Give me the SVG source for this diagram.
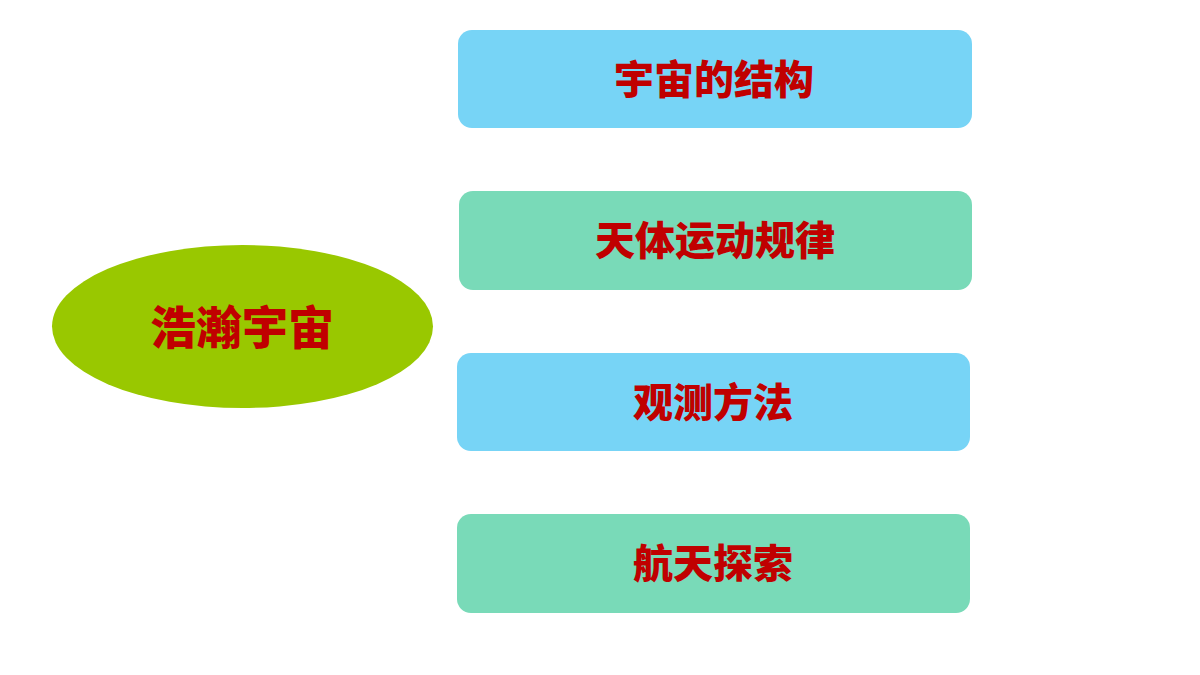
<svg xmlns="http://www.w3.org/2000/svg" width="1200" height="675" viewBox="0 0 1200 675">
<style>
.bg{fill:#ffffff}
.blue{fill:#77D4F6}
.green{fill:#79DAB8}
.root{fill:#99C800}
.t{font-family:"Noto Sans CJK SC","Noto Sans CJK TC",sans-serif;font-weight:900;fill:#C00000;text-anchor:middle;dominant-baseline:central}
.tb{font-size:40px}
.tr{font-size:46px}
</style>
<rect class="bg" x="0" y="0" width="1200" height="675"/>
<g id="connectors"></g>
<g id="root">
<ellipse class="root" cx="242.5" cy="326.5" rx="190.5" ry="81.5"/>
<text class="t tr" x="242" y="324">浩瀚宇宙</text>
</g>
<g id="n1">
<rect class="blue" x="458" y="30" width="514" height="98" rx="14"/>
<text class="t tb" x="714" y="77">宇宙的结构</text>
</g>
<g id="n2">
<rect class="green" x="459" y="191" width="513" height="99" rx="14"/>
<text class="t tb" x="715" y="238">天体运动规律</text>
</g>
<g id="n3">
<rect class="blue" x="457" y="353" width="513" height="98" rx="14"/>
<text class="t tb" x="713" y="400">观测方法</text>
</g>
<g id="n4">
<rect class="green" x="457" y="514" width="513" height="99" rx="14"/>
<text class="t tb" x="713" y="561">航天探索</text>
</g>
</svg>
